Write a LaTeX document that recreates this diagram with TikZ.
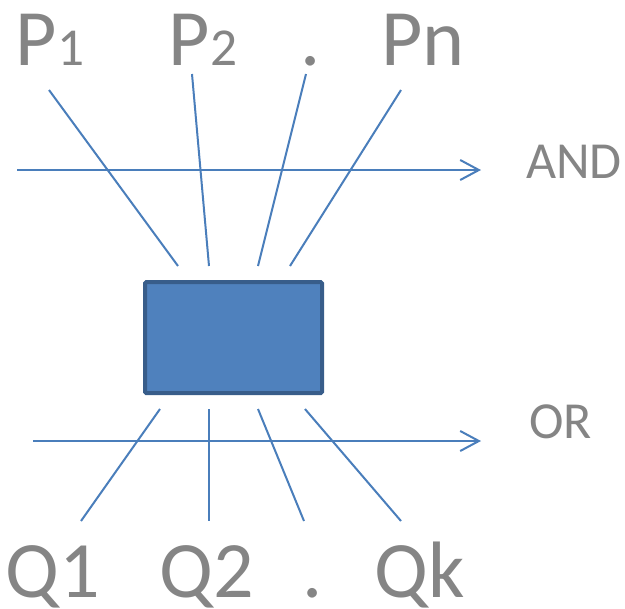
\documentclass[tikz,border=0pt]{standalone}
\usepackage{fontspec}
\setmainfont{Carlito}
\usetikzlibrary{arrows.meta}
\definecolor{txtgray}{HTML}{858585}
\definecolor{linkblue}{HTML}{4A7EBB}
\definecolor{boxfill}{HTML}{4F81BD}
\definecolor{boxedge}{HTML}{385D8A}
\begin{document}
\begin{tikzpicture}[x=0.75pt,y=-0.75pt,
  biglabel/.style={text=txtgray,font=\fontsize{60}{62}\selectfont,anchor=base,inner sep=0pt},
  oplabel/.style={text=txtgray,font=\fontsize{39}{41}\selectfont,anchor=base west,inner sep=0pt},
  link/.style={draw=linkblue,line width=1.5pt},
  arrowlink/.style={link,-{Straight Barb[length=14pt,width=15pt,line width=1.5pt]}},
  blockbox/.style={draw=boxedge,fill=boxfill,line width=3pt,rounded corners=1pt}]
\useasboundingbox (0,0) rectangle (625,608);
% labels
\node[biglabel] (p1) at (50,65) {P\fontsize{40}{42}\selectfont 1};
\node[biglabel] (p2) at (203,65) {P\fontsize{40}{42}\selectfont 2};
\node[biglabel] (pd) at (311,65) {.};
\node[biglabel] (pn) at (423,65) {Pn};
\node[biglabel] (q1) at (53,597) {Q1};
\node[biglabel] (q2) at (207,597) {Q2};
\node[biglabel] (qd) at (313,597) {.};
\node[biglabel] (qk) at (420,597) {Qk};
\node[oplabel] (and) at (526,178) {AND};
\node[oplabel] (or) at (529,438) {OR};
% box
\path[blockbox] (145,282) rectangle (322,393);
% line ends
\coordinate (a1) at (49,90);   \coordinate (b1) at (178,266);
\coordinate (a2) at (192,74);  \coordinate (b2) at (209,266);
\coordinate (a3) at (306,74);  \coordinate (b3) at (258,266);
\coordinate (a4) at (401,90);  \coordinate (b4) at (290,266);
\coordinate (c1) at (160,409); \coordinate (d1) at (81,521);
\coordinate (c2) at (209,409); \coordinate (d2) at (209,521);
\coordinate (c3) at (258,409); \coordinate (d3) at (304,521);
\coordinate (c4) at (305,409); \coordinate (d4) at (401,521);
\coordinate (andS) at (17,170); \coordinate (andE) at (481,170);
\coordinate (orS) at (33,441);  \coordinate (orE) at (481,441);
\draw[link] (a1) -- (b1);
\draw[link] (a2) -- (b2);
\draw[link] (a3) -- (b3);
\draw[link] (a4) -- (b4);
\draw[link] (c1) -- (d1);
\draw[link] (c2) -- (d2);
\draw[link] (c3) -- (d3);
\draw[link] (c4) -- (d4);
\draw[arrowlink] (andS) -- (andE);
\draw[arrowlink] (orS) -- (orE);
\end{tikzpicture}
\end{document}
